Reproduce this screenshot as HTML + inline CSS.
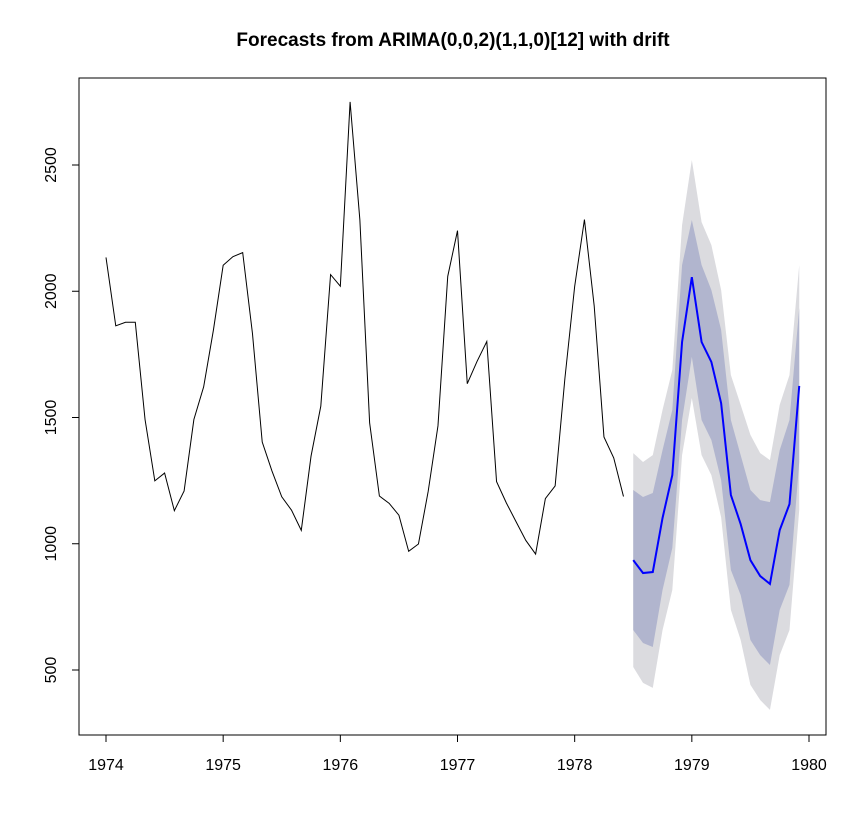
<!DOCTYPE html>
<html><head><meta charset="utf-8"><style>
body{margin:0;background:#fff;}
svg{display:block;font-family:"Liberation Sans",Arial,sans-serif;}
</style></head><body>
<svg id="chart" width="867" height="833">
<text x="453" y="46" text-anchor="middle" font-size="19" font-weight="bold">Forecasts from ARIMA(0,0,2)(1,1,0)[12] with drift</text>
<g id="plot"></g>
<rect x="79" y="78" width="747" height="657" fill="none" stroke="#000" stroke-width="1"/>
</svg>
<script>
const history=[2134,1863,1877,1877,1492,1249,1280,1131,1209,1492,1621,1846,
2103,2137,2153,1833,1403,1288,1186,1133,1053,1347,1545,2066,
2020,2750,2283,1479,1189,1160,1113,970,999,1208,1467,2059,
2240,1634,1722,1801,1246,1162,1087,1013,959,1179,1229,1655,
2019,2284,1942,1423,1340,1187];
const historyStart=1974;
const forecastStart=1978.5;
const forecastMean=[935,884,888,1102,1272,1799,2056,1799,1720,1557,1193,1078,935,872,841,1054,1157,1625];
const hi80=[1213,1185,1201,1371,1530,2104,2282,2104,2005,1847,1490,1351,1213,1173,1165,1371,1490,1934];
const lo80=[658,607,591,817,983,1490,1740,1490,1411,1252,896,797,619,559,520,738,837,1324];
const hi95=[1359,1324,1351,1530,1688,2262,2520,2274,2183,2005,1668,1550,1431,1359,1331,1550,1668,2104];
const lo95=[512,449,429,658,817,1351,1577,1351,1272,1105,738,619,441,381,342,559,658,1134];
const xTicks=[1974,1975,1976,1977,1978,1979,1980];
const yTicks=[500,1000,1500,2000,2500];

const NS="http://www.w3.org/2000/svg";
const svg=document.getElementById('chart');
const plot=document.getElementById('plot');
const X=t=>106+(t-1974)*(809-106)/6;
const Y=v=>670-(v-500)*(505/2000);
function mk(tag,attrs,parent){const e=document.createElementNS(NS,tag);for(const k in attrs)e.setAttribute(k,attrs[k]);(parent||plot).appendChild(e);return e;}
function band(hi,lo,color,name){
  let pts=hi.map((v,i)=>X(forecastStart+i/12)+","+Y(v));
  for(let i=lo.length-1;i>=0;i--)pts.push(X(forecastStart+i/12)+","+Y(lo[i]));
  const p=mk('polygon',{points:pts.join(' '),fill:color});
  
  
}
band(hi95,lo95,'#DBDBDF','band-95');
band(hi80,lo80,'#B1B5CE','band-80');
const h=mk('polyline',{points:history.map((v,i)=>X(historyStart+i/12)+","+Y(v)).join(' '),fill:'none',stroke:'#000','stroke-width':1});


const f=mk('polyline',{points:forecastMean.map((v,i)=>X(forecastStart+i/12)+","+Y(v)).join(' '),fill:'none',stroke:'#0000FF','stroke-width':2});


// x axis
const xa=mk('line',{x1:X(xTicks[0]),x2:X(xTicks[xTicks.length-1]),y1:735,y2:735,stroke:'#000'},svg);


xTicks.forEach(t=>{
  mk('line',{x1:X(t),x2:X(t),y1:735,y2:742,stroke:'#000'},svg);
  const tx=mk('text',{x:X(t),y:770,'text-anchor':'middle','font-size':16},svg);
  tx.textContent=t;
  
  
});
// y axis
const ya=mk('line',{x1:79,x2:79,y1:Y(yTicks[0]),y2:Y(yTicks[yTicks.length-1]),stroke:'#000'},svg);


yTicks.forEach(v=>{
  mk('line',{x1:72,x2:79,y1:Y(v),y2:Y(v),stroke:'#000'},svg);
  const tx=mk('text',{x:56,y:Y(v),'text-anchor':'middle','font-size':16,transform:`rotate(-90 56 ${Y(v)})`},svg);
  tx.textContent=v;
  
  
});
</script>
</body></html>
